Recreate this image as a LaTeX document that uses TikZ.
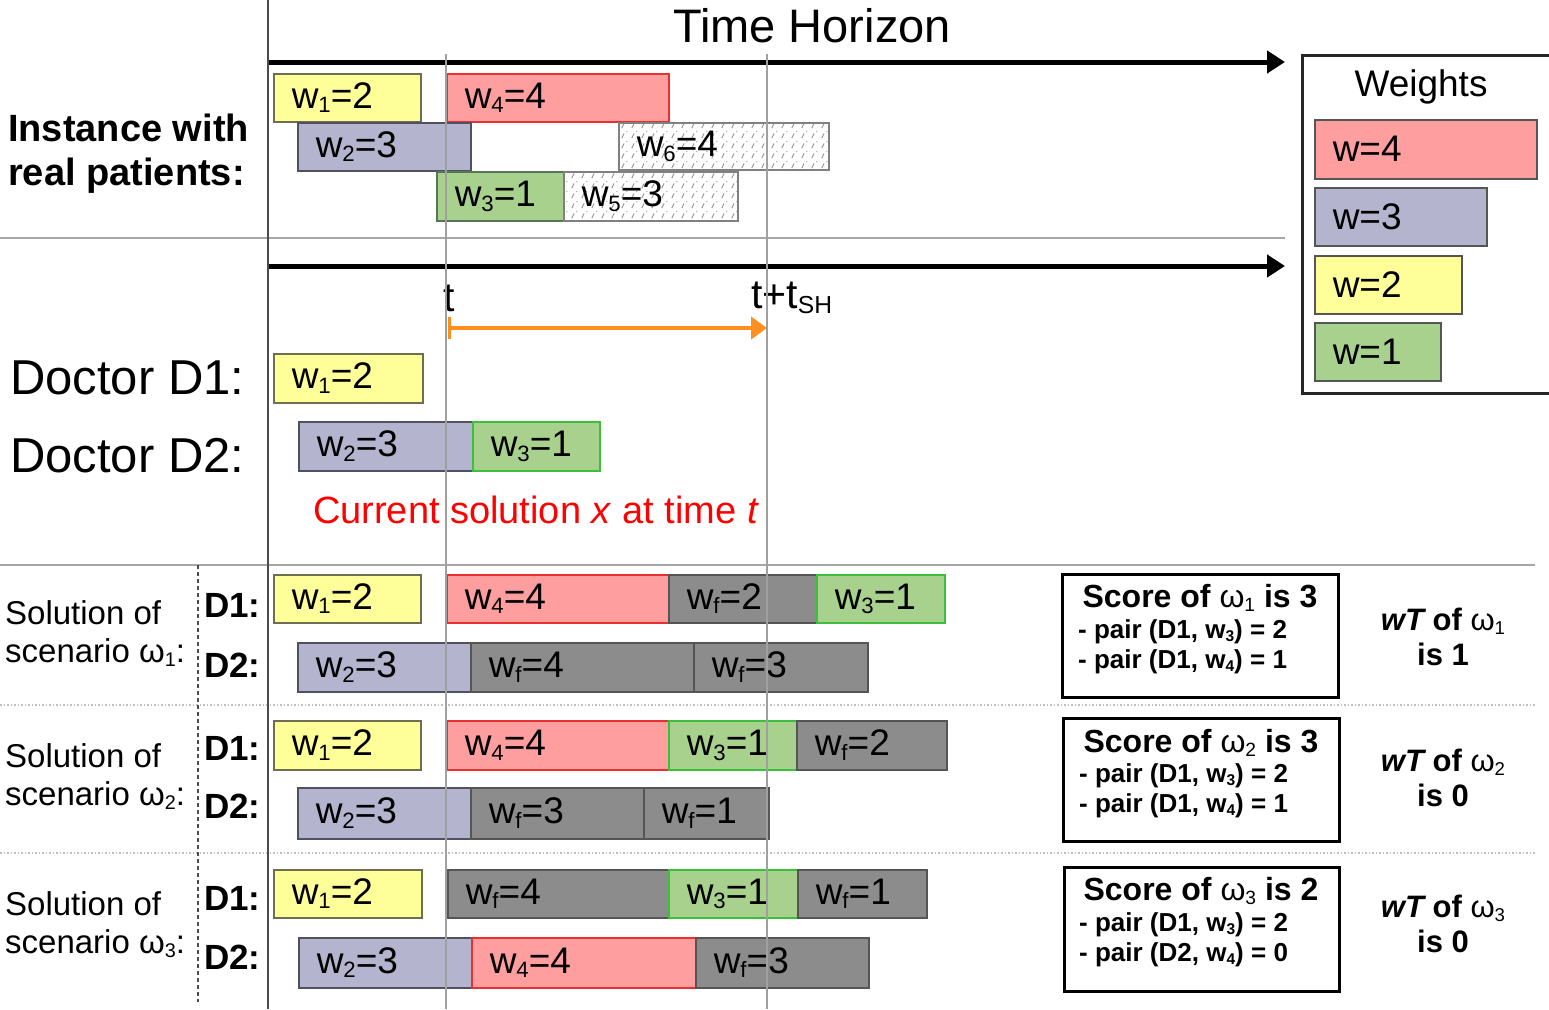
\documentclass[tikz,border=0pt]{standalone}
\usepackage{fontspec}
\setmainfont{Liberation Sans}
\usetikzlibrary{arrows.meta,patterns.meta}
\definecolor{yfill}{HTML}{FFFF99}
\definecolor{yedge}{HTML}{6E6E50}
\definecolor{rfill}{HTML}{FF9E9E}
\definecolor{redge}{HTML}{E83030}
\definecolor{lfill}{HTML}{B4B4CE}
\definecolor{ledge}{HTML}{505060}
\definecolor{gfill}{HTML}{A9D18E}
\definecolor{gedge}{HTML}{3CBF3C}
\definecolor{gedgetop}{HTML}{557755}
\definecolor{ffill}{HTML}{8C8C8C}
\definecolor{fedge}{HTML}{555555}
\definecolor{orng}{HTML}{FF8F1F}
\definecolor{tline}{HTML}{A0A0A0}
\newcommand\fsz[2]{\fontsize{#1}{#2}\selectfont}
\makeatletter
\newcommand\sbs[1]{\raisebox{-0.12em}{\fontsize{\strip@pt\dimexpr0.6\dimexpr\f@size pt\relax\relax}{1}\selectfont #1}}
\makeatother
\pgfdeclarepattern{name=hatchdash, type=uncolored,
  bottom left={\pgfpoint{0pt}{0pt}}, top right={\pgfpoint{10pt}{10pt}},
  tile size={\pgfpoint{10pt}{10pt}},
  code={\pgfsetlinewidth{1pt}\pgfpathmoveto{\pgfpoint{2pt}{1pt}}\pgfpathlineto{\pgfpoint{4.5pt}{6pt}}\pgfusepath{stroke}
        \pgfpathcircle{\pgfpoint{7.5pt}{8pt}}{0.7pt}\pgfusepath{fill}}}
\newcommand\pb[7]{%
  \pgfmathsetmacro\pbw{#4-#2}\pgfmathsetmacro\pbh{#5-#3}\pgfmathsetmacro\pbt{#4-#2-36}%
  \node[#6, anchor=north west, minimum width=\pbw pt, minimum height=\pbh pt, text width=\pbt pt] (#1) at (#2,#3) {#7};}
\tikzset{
  pbox/.style={draw, line width=1.5pt, inner xsep=18pt, inner ysep=0pt, align=left, font=\fsz{37}{40}},
  ybox/.style={pbox, fill=yfill, draw=yedge},
  rbox/.style={pbox, fill=rfill, draw=redge},
  lbox/.style={pbox, fill=lfill, draw=ledge},
  gbox/.style={pbox, fill=gfill, draw=gedge},
  gboxtop/.style={pbox, fill=gfill, draw=gedgetop},
  wfbox/.style={pbox, fill=ffill, draw=fedge},
  hbox/.style={pbox, draw=gray, pattern=hatchdash, pattern color=gray!85},
  legr/.style={pbox, fill=rfill, draw=fedge},
  legl/.style={pbox, fill=lfill, draw=fedge},
  legy/.style={pbox, fill=yfill, draw=fedge},
  legg/.style={pbox, fill=gfill, draw=fedge},
  scorebox/.style={draw=black, line width=2.5pt, fill=white, anchor=north west, inner sep=0pt},
  scorehead/.style={font=\bfseries\fsz{32}{36}, inner sep=0pt},
  pairtxt/.style={font=\bfseries\fsz{26}{30}, anchor=west, inner sep=0pt},
  wttxt/.style={font=\bfseries\fsz{31}{35}, align=center, inner sep=0pt},
  sollab/.style={font=\fsz{33}{38}, anchor=west, align=left, inner sep=0pt},
  dlab/.style={font=\bfseries\fsz{35}{40}, anchor=west, inner sep=0pt},
  doclab/.style={font=\fsz{49}{52}, anchor=west, inner sep=0pt},
  mainarrow/.style={line width=5pt, -{Triangle[length=18pt,width=22pt]}},
  sepline/.style={draw=gray!70, line width=1.5pt},
  dotsep/.style={draw=gray!50, line width=1.5pt, dotted},
  tmark/.style={draw=tline, line width=1.3pt},
}
\begin{document}
\begin{tikzpicture}[x=1pt,y=-1pt]
\useasboundingbox (0,0) rectangle (1549,1009);
\fill[white] (0,0) rectangle (1549,1009);

% title and axes
\node[font=\fsz{47}{52}, inner sep=0pt] (title) at (812,26) {Time Horizon};
\coordinate (ax1s) at (268,62); \coordinate (ax1e) at (1285,62);
\coordinate (ax2s) at (268,266); \coordinate (ax2e) at (1285,266);
\draw[mainarrow] (ax1s) -- (ax1e);
\draw[mainarrow] (ax2s) -- (ax2e);

% separators
\coordinate (s1a) at (0,238); \coordinate (s1b) at (1285,238);
\coordinate (s2a) at (0,565); \coordinate (s2b) at (1535,565);
\coordinate (s3a) at (0,705); \coordinate (s3b) at (1535,705);
\coordinate (s4a) at (0,853); \coordinate (s4b) at (1535,853);
\draw[sepline] (s1a) -- (s1b);
\draw[sepline] (s2a) -- (s2b);
\draw[dotsep] (s3a) -- (s3b);
\draw[dotsep] (s4a) -- (s4b);

% left labels
\node[font=\bfseries\fsz{38}{44}, anchor=west, align=left, inner sep=0pt] (inst) at (8,154) {Instance with\\real patients:};
\node[doclab] (doc1) at (10,378) {Doctor D1:};
\node[doclab] (doc2) at (10,456) {Doctor D2:};

% instance boxes
\pb{a1}{273}{73}{420}{121}{ybox}{w\sbs{1}=2}
\pb{a4}{446}{73}{668}{121}{rbox}{w\sbs{4}=4}
\pb{a2}{297}{122}{470}{170}{lbox}{w\sbs{2}=3}
\pb{a6}{618}{122}{828}{169}{hbox}{w\sbs{6}=4}
\pb{a3}{436}{171}{563}{220}{gboxtop}{w\sbs{3}=1}
\pb{a5}{563}{171}{737}{220}{hbox}{w\sbs{5}=3}

% t markers
\node[font=\fsz{41}{44}, anchor=west, inner sep=0pt] (tlab) at (443,298) {t};
\node[font=\fsz{41}{44}, anchor=west, inner sep=0pt] (tshlab) at (751,298) {t+t\sbs{SH}};
\coordinate (o0) at (448,328); \coordinate (o1) at (767,328);
\draw[draw=orng, line width=4pt, {Bar[width=22pt,line width=3pt]}-{Triangle[length=16pt,width=22pt]}] (o0) -- (o1);

% doctor boxes
\pb{d1}{273}{353}{422}{402}{ybox}{w\sbs{1}=2}
\pb{d2}{298}{421}{472}{470}{lbox}{w\sbs{2}=3}
\pb{d3}{472}{421}{599}{470}{gbox}{w\sbs{3}=1}
\node[font=\fsz{38}{42}, text=red, inner sep=0pt] (cur) at (536,510) {Current solution \textit{x} at time \textit{t}};

% scenario 1
\pb{p1a}{273}{574}{420}{622}{ybox}{w\sbs{1}=2}
\pb{p1b}{446}{574}{668}{622}{rbox}{w\sbs{4}=4}
\pb{p1c}{668}{574}{816}{622}{wfbox}{w\sbs{f}=2}
\pb{p1d}{816}{574}{944}{622}{gbox}{w\sbs{3}=1}
\pb{p1e}{297}{642}{470}{691}{lbox}{w\sbs{2}=3}
\pb{p1f}{470}{642}{693}{691}{wfbox}{w\sbs{f}=4}
\pb{p1g}{693}{642}{867}{691}{wfbox}{w\sbs{f}=3}

% scenario 2
\pb{p2a}{273}{720}{420}{769}{ybox}{w\sbs{1}=2}
\pb{p2b}{446}{720}{668}{769}{rbox}{w\sbs{4}=4}
\pb{p2c}{668}{720}{796}{769}{gbox}{w\sbs{3}=1}
\pb{p2d}{796}{720}{946}{769}{wfbox}{w\sbs{f}=2}
\pb{p2e}{297}{787}{470}{838}{lbox}{w\sbs{2}=3}
\pb{p2f}{470}{787}{643}{838}{wfbox}{w\sbs{f}=3}
\pb{p2g}{643}{787}{768}{838}{wfbox}{w\sbs{f}=1}

% scenario 3
\pb{p3a}{273}{869}{421}{917}{ybox}{w\sbs{1}=2}
\pb{p3b}{447}{869}{668}{917}{wfbox}{w\sbs{f}=4}
\pb{p3c}{668}{869}{797}{917}{gbox}{w\sbs{3}=1}
\pb{p3d}{797}{869}{926}{917}{wfbox}{w\sbs{f}=1}
\pb{p3e}{298}{937}{471}{987}{lbox}{w\sbs{2}=3}
\pb{p3f}{471}{937}{695}{987}{rbox}{w\sbs{4}=4}
\pb{p3g}{695}{937}{868}{987}{wfbox}{w\sbs{f}=3}

% scenario labels
\node[sollab] (sl1) at (5,634) {Solution of\\scenario ω\sbs{1}:};
\node[sollab] (sl2) at (5,777) {Solution of\\scenario ω\sbs{2}:};
\node[sollab] (sl3) at (5,925) {Solution of\\scenario ω\sbs{3}:};
\node[dlab] (dl1a) at (204,605) {D1:};
\node[dlab] (dl1b) at (204,665) {D2:};
\node[dlab] (dl2a) at (204,748) {D1:};
\node[dlab] (dl2b) at (204,806) {D2:};
\node[dlab] (dl3a) at (204,898) {D1:};
\node[dlab] (dl3b) at (204,957) {D2:};

% score boxes
\node[scorebox, minimum width=276pt, minimum height=123pt] (sc1) at (1061,573) {};
\node[scorehead] (sh1) at (1200,598) {Score of {\mdseries ω\sbs{1}} is 3};
\node[pairtxt] (pa1) at (1078,632) {- pair (D1, w\sbs{3}) = 2};
\node[pairtxt] (pb1) at (1078,662) {- pair (D1, w\sbs{4}) = 1};
\node[scorebox, minimum width=276pt, minimum height=123pt] (sc2) at (1062,717) {};
\node[scorehead] (sh2) at (1201,743) {Score of {\mdseries ω\sbs{2}} is 3};
\node[pairtxt] (pa2) at (1079,776) {- pair (D1, w\sbs{3}) = 2};
\node[pairtxt] (pb2) at (1079,806) {- pair (D1, w\sbs{4}) = 1};
\node[scorebox, minimum width=275pt, minimum height=124pt] (sc3) at (1063,866) {};
\node[scorehead] (sh3) at (1201,891) {Score of {\mdseries ω\sbs{3}} is 2};
\node[pairtxt] (pa3) at (1079,925) {- pair (D1, w\sbs{3}) = 2};
\node[pairtxt] (pb3) at (1079,955) {- pair (D2, w\sbs{4}) = 0};

% wT texts
\node[wttxt] (wt1) at (1443,637) {{\itshape wT} of {\mdseries ω\sbs{1}}\\is 1};
\node[wttxt] (wt2) at (1443,778) {{\itshape wT} of {\mdseries ω\sbs{2}}\\is 0};
\node[wttxt] (wt3) at (1443,924) {{\itshape wT} of {\mdseries ω\sbs{3}}\\is 0};

% legend
\node[draw=black!85, line width=2.5pt, anchor=north west, minimum width=260pt, minimum height=338pt, inner sep=0pt] (leg) at (1301,54) {};
\node[font=\fsz{37}{40}, inner sep=0pt] (legt) at (1421,87) {Weights};
\pb{l4}{1314}{119}{1536}{178}{legr}{w=4}
\pb{l3}{1314}{187}{1486}{245}{legl}{w=3}
\pb{l2}{1314}{255}{1461}{313}{legy}{w=2}
\pb{l1}{1314}{322}{1440}{380}{legg}{w=1}

% vertical lines
\coordinate (v0a) at (268,0); \coordinate (v0b) at (268,1009);
\coordinate (vta) at (446,54); \coordinate (vtb) at (446,1009);
\coordinate (vsa) at (767,54); \coordinate (vsb) at (767,1009);
\coordinate (vda) at (198,565); \coordinate (vdb) at (198,1002);
\draw[tmark] (vta) -- (vtb);
\draw[tmark] (vsa) -- (vsb);
\draw[draw=black!70, line width=2.5pt] (v0a) -- (v0b);
\draw[draw=black!70, line width=1.2pt, dash pattern=on 4pt off 3pt] (vda) -- (vdb);
\end{tikzpicture}
\end{document}
